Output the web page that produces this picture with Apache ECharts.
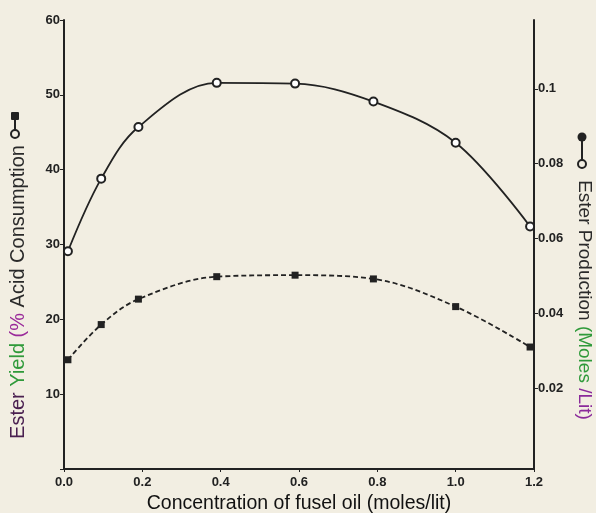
<!DOCTYPE html>
<html>
<head>
<meta charset="utf-8">
<script src="https://cdn.jsdelivr.net/npm/echarts@6/dist/echarts.min.js"></script>
<style>
  html, body { margin: 0; padding: 0; background: #f2eee2; }
  #chart { width: 596px; height: 513px; }
</style>
</head>
<body>
<div id="chart"></div>
<script>
// fusel oil concentration (moles/lit)
const conc = [0.01, 0.095, 0.19, 0.39, 0.59, 0.79, 1.0, 1.19];
// upper curve, open circles, solid line
const acidConsumption = [29.1, 38.8, 45.7, 51.6, 51.5, 49.1, 43.6, 32.4];
// lower curve, filled squares, dashed line
const esterYield = [14.6, 19.3, 22.7, 25.7, 25.9, 25.4, 21.7, 16.3];
const rightTicks = [0.02, 0.04, 0.06, 0.08, 0.1];

const ink = "#222";
const paper = "#f2eee2";
const font = "Liberation Sans";
const labelFont = { color: ink, fontWeight: "bold", fontSize: 13, fontFamily: font };

const chart = echarts.init(document.getElementById("chart"));

const option = {
  backgroundColor: paper,
  animation: false,
  grid: { left: 64, right: 62, top: 20, bottom: 44, containLabel: false, outerBoundsMode: "none" },
  xAxis: {
    type: "value",
    min: 0,
    max: 1.2,
    interval: 0.2,
    name: "Concentration of fusel oil (moles/lit)",
    nameLocation: "middle",
    nameGap: 22,
    nameTextStyle: { color: "#111", fontSize: 19.5, fontFamily: font },
    axisLine: { lineStyle: { color: ink, width: 2 } },
    axisTick: { length: 3, lineStyle: { color: ink } },
    axisLabel: Object.assign({ margin: 7, formatter: (v) => v.toFixed(1) }, labelFont),
    splitLine: { show: false },
  },
  yAxis: [
    {
      type: "value",
      min: 0,
      max: 60,
      interval: 10,
      axisLine: { show: true, lineStyle: { color: ink, width: 2 } },
      axisTick: { show: true, length: 4, lineStyle: { color: ink } },
      axisLabel: Object.assign({ margin: 4, formatter: (v) => (v === 0 ? "" : v) }, labelFont),
      splitLine: { show: false },
    },
    {
      type: "value",
      position: "right",
      min: -0.0016,
      max: 0.1184,
      axisLine: { show: true, lineStyle: { color: ink, width: 2 } },
      axisTick: { show: true, length: 4, customValues: rightTicks, lineStyle: { color: ink } },
      axisLabel: Object.assign({ margin: 4, customValues: rightTicks }, labelFont),
      splitLine: { show: false },
    },
  ],
  series: [
    {
      type: "line",
      data: conc.map((x, i) => [x, acidConsumption[i]]),
      smooth: 0.35,
      symbol: "emptyCircle",
      symbolSize: 8,
      lineStyle: { color: ink, width: 1.8 },
      itemStyle: { color: ink, borderWidth: 1.8 },
    },
    {
      type: "line",
      data: conc.map((x, i) => [x, esterYield[i]]),
      smooth: 0.35,
      symbol: "rect",
      symbolSize: 7,
      lineStyle: { color: ink, width: 1.8, type: [5, 3] },
      itemStyle: { color: ink },
    },
  ],
  graphic: [
    // left axis title
    {
      type: "text",
      x: 18,
      y: 292,
      rotation: Math.PI / 2,
      style: {
        text: "{a|Ester} {b|Yield} {c|(%} {d|Acid Consumption}",
        align: "center",
        verticalAlign: "middle",
        fontSize: 20,
        fontFamily: font,
        rich: {
          a: { fill: "#4a2050", fontSize: 20, fontFamily: font },
          b: { fill: "#2f9a3a", fontSize: 20, fontFamily: font },
          c: { fill: "#9a2a9a", fontSize: 20, fontFamily: font },
          d: { fill: "#2a2a2a", fontSize: 20, fontFamily: font },
        },
      },
    },
    // right axis title
    {
      type: "text",
      x: 584,
      y: 300,
      rotation: -Math.PI / 2,
      style: {
        text: "{a|Ester Production} {b|(Moles} {c|/Lit)}",
        align: "center",
        verticalAlign: "middle",
        fontSize: 19,
        fontFamily: font,
        rich: {
          a: { fill: "#2a2a2a", fontSize: 19, fontFamily: font },
          b: { fill: "#2f9a3a", fontSize: 19, fontFamily: font },
          c: { fill: "#8a2a9a", fontSize: 19, fontFamily: font },
        },
      },
    },
    // left key: filled square over open circle
    { type: "line", shape: { x1: 15, y1: 116, x2: 15, y2: 134 }, style: { stroke: ink, lineWidth: 2 } },
    { type: "rect", shape: { x: 11, y: 112, width: 8, height: 8, r: 1 }, style: { fill: ink } },
    { type: "circle", shape: { cx: 15, cy: 134, r: 4 }, style: { fill: paper, stroke: ink, lineWidth: 2 } },
    // right key: filled circle over open circle
    { type: "line", shape: { x1: 582, y1: 137, x2: 582, y2: 164 }, style: { stroke: ink, lineWidth: 2 } },
    { type: "circle", shape: { cx: 582, cy: 137, r: 4.5 }, style: { fill: ink } },
    { type: "circle", shape: { cx: 582, cy: 164, r: 4 }, style: { fill: paper, stroke: ink, lineWidth: 2 } },
  ],
};

chart.setOption(option);
</script>
</body>
</html>
